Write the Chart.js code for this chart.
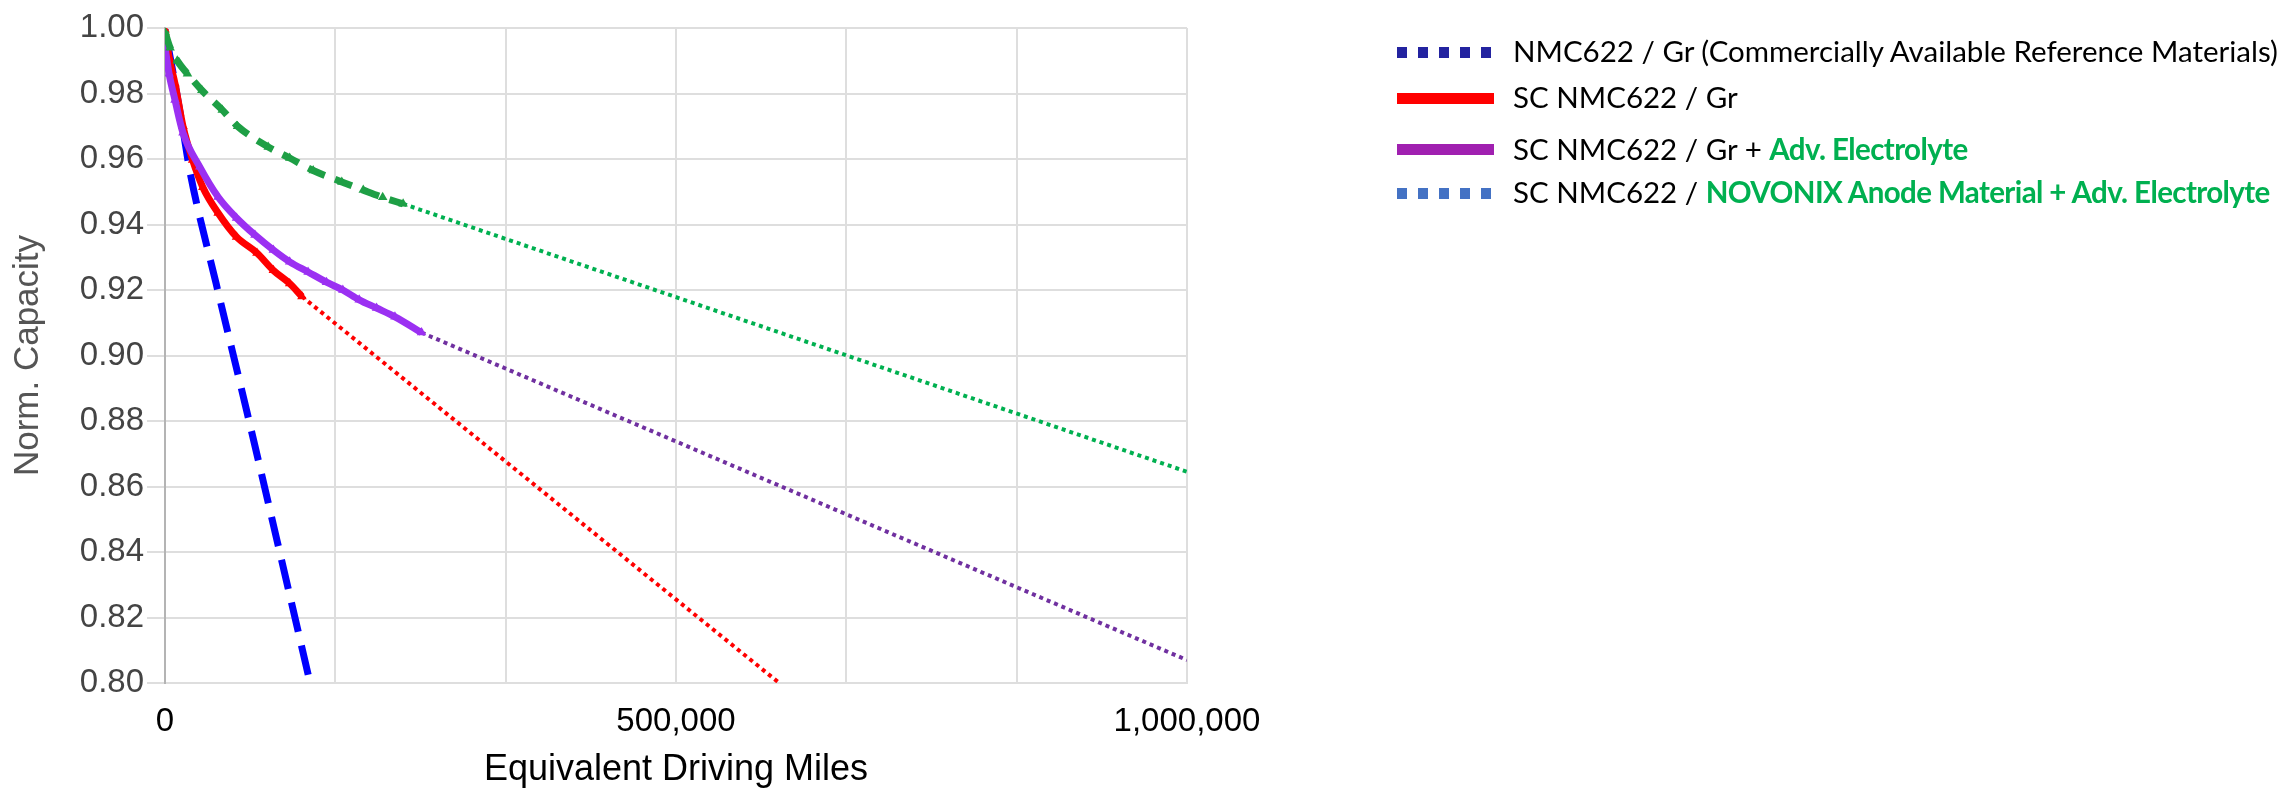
<!DOCTYPE html>
<html>
<head>
<meta charset="utf-8">
<script src="https://cdn.jsdelivr.net/npm/chart.js@4.4.0/dist/chart.umd.min.js"></script>
<style>
  html, body { margin: 0; padding: 0; background: #fff; }
  #wrap { position: relative; width: 2293px; height: 792px; }
  #myChart { position: absolute; left: 0; top: 0; }
  .swatch { position: absolute; left: 1397px; width: 97px; height: 11px; }
  .label { position: absolute; left: 1513px; font-family: Lato, sans-serif; font-size: 29.5px;
           line-height: 30px; white-space: nowrap; color: #000; }
  .label b { color: #00B050; font-weight: bold; letter-spacing: -0.6px; }
</style>
</head>
<body>
<div id="wrap">
  <canvas id="myChart" width="2293" height="792"></canvas>
</div>
<script>
//////////////////////////////// DATA ////////////////////////////////
// x = equivalent driving miles, y = normalized capacity
const xTickShown = [0, 500000, 1000000];
const yTicks = [0.80, 0.82, 0.84, 0.86, 0.88, 0.90, 0.92, 0.94, 0.96, 0.98, 1.00];

// NMC622 / Gr (commercial reference)
const blueMiles = [0, 9800, 17600, 24500, 50000, 80000, 110000, 142000];
const blueCap   = [0.9995, 0.983, 0.969, 0.956, 0.922, 0.883, 0.843, 0.800];

// SC NMC622 / Gr
const redMiles = [0, 4000, 9800, 17600, 27000, 37000, 52000, 70000, 90000, 106000, 122000, 134000];
const redCap   = [0.9995, 0.991, 0.983, 0.970, 0.9597, 0.9514, 0.9435, 0.9362, 0.9313, 0.926, 0.922, 0.918];
const redProjMiles = [134000, 601000];
const redProjCap   = [0.918, 0.800];

// SC NMC622 / Gr + Adv. Electrolyte
const purpleMiles = [0, 4000, 9800, 17600, 34000, 52000, 70000, 88000, 106000, 122000, 140000, 158000, 174000, 190000, 207000, 225000, 251000];
const purpleCap   = [0.9942, 0.986, 0.978, 0.968, 0.9576, 0.9484, 0.942, 0.9368, 0.9322, 0.9286, 0.9255, 0.9224, 0.920, 0.917, 0.9145, 0.9118, 0.907];
const purpleProjMiles = [251000, 1000000];
const purpleProjCap   = [0.907, 0.807];

// SC NMC622 / NOVONIX anode + Adv. Electrolyte
const greenMiles = [0, 5000, 12000, 22000, 36000, 56000, 71000, 101000, 122000, 145000, 173000, 194000, 213000, 233000];
const greenCap   = [0.9988, 0.994, 0.990, 0.986, 0.981, 0.975, 0.970, 0.9637, 0.9603, 0.9565, 0.953, 0.9505, 0.9483, 0.9463];
const greenProjMiles = [233000, 1000000];
const greenProjCap   = [0.9463, 0.8645];

//////////////////////////////// HELPERS ////////////////////////////////
function pts(xs, ys) {
  return xs.map((x, i) => ({ x: x, y: ys[i] }));
}

function measured(data, color, dash, order, marker) {
  return {
    data: data,
    borderColor: color,
    backgroundColor: color,
    borderWidth: 7,
    borderDash: dash,
    pointRadius: marker ? 5.5 : 0,
    pointStyle: "triangle",
    pointBorderWidth: 0,
    pointBackgroundColor: color,
    cubicInterpolationMode: "monotone",
    order: order,
  };
}

function projection(data, color, order) {
  return {
    data: data,
    borderColor: color,
    borderWidth: 4,
    borderDash: [4, 4],
    pointRadius: 0,
    order: order,
  };
}

//////////////////////////////// CHART ////////////////////////////////
const blueSet = measured(pts(blueMiles, blueCap), "#0000FF", [30, 14], 4, false);
blueSet.borderDashOffset = 29; // first visible dash starts just under the red curve

const data = {
  datasets: [
    blueSet,
    measured(pts(redMiles, redCap), "#FF0000", [], 3, true),
    measured(pts(purpleMiles, purpleCap), "#9B30F2", [], 2, true),
    measured(pts(greenMiles, greenCap), "#1E9F45", [18, 11], 1, true),
    projection(pts(redProjMiles, redProjCap), "#FF0000", 5),
    projection(pts(purpleProjMiles, purpleProjCap), "#7030A0", 5),
    projection(pts(greenProjMiles, greenProjCap), "#00B050", 5),
  ],
};

const config = {
  type: "line",
  data: data,
  options: {
    responsive: false,
    animation: false,
    layout: { padding: { left: 0, top: 28, right: 1106, bottom: 0 } },
    plugins: { legend: { display: false }, tooltip: { enabled: false } },
    scales: {
      x: {
        type: "linear",
        min: 0,
        max: 1000000,
        afterBuildTicks: (scale) => {
          scale.ticks = [0, 1, 2, 3, 4, 5, 6].map((i) => ({ value: (i * 1000000) / 6 }));
        },
        afterFit: (scale) => { scale.height = 109; },
        grid: { color: "#dedede", lineWidth: 2, drawTicks: false },
        border: { color: "#dedede", width: 2 },
        ticks: {
          padding: 19,
          color: "#000",
          font: { family: "'Liberation Sans', Arial, sans-serif", size: 33 },
          maxRotation: 0,
          autoSkip: false,
          callback: (v) => {
            const r = Math.round(v);
            return xTickShown.includes(r) ? r.toLocaleString("en-US") : "";
          },
        },
        title: {
          display: true,
          text: "Equivalent Driving Miles",
          color: "#000",
          font: { family: "'Liberation Sans', Arial, sans-serif", size: 36 },
          padding: { top: 0, bottom: 0 },
        },
      },
      y: {
        min: 0.8,
        max: 1.0,
        afterBuildTicks: (scale) => {
          scale.ticks = yTicks.map((v) => ({ value: v }));
        },
        afterFit: (scale) => { scale.width = 165; },
        grid: { color: "#dedede", lineWidth: 2, tickLength: 18 },
        border: { color: "#b4b4b4", width: 2 },
        ticks: {
          padding: 3,
          color: "#444",
          font: { family: "'Liberation Sans', Arial, sans-serif", size: 33 },
          callback: (v) => v.toFixed(2),
        },
        title: {
          display: true,
          text: "Norm. Capacity",
          color: "#555",
          font: { family: "'Liberation Sans', Arial, sans-serif", size: 35 },
          padding: { top: 7, bottom: 0 },
        },
      },
    },
  },
};

const myChart = new Chart(document.getElementById("myChart"), config);

//////////////////////////////// LEGEND ////////////////////////////////
const legendRows = [
  { swatch: "dots", color: "#2323A0", cy: 52, base: 62, html: "NMC622 / Gr (Commercially Available Reference Materials)" },
  { swatch: "bar", color: "#FF0000", cy: 98, base: 108, html: "SC NMC622 / Gr" },
  { swatch: "bar", color: "#A020B0", cy: 149, base: 160, html: "SC NMC622 / Gr + <b>Adv. Electrolyte</b>" },
  { swatch: "dots", color: "#4472C4", cy: 193, base: 203, html: "SC NMC622 / <b>NOVONIX Anode Material + Adv. Electrolyte</b>" },
];

const wrap = document.getElementById("wrap");
legendRows.forEach((row) => {
  const sw = document.createElement("div");
  sw.className = "swatch";
  sw.style.top = row.cy - 5.5 + "px";
  sw.style.background = row.swatch === "bar"
    ? row.color
    : `repeating-linear-gradient(to right, ${row.color} 0 10px, transparent 10px 21px)`;
  wrap.appendChild(sw);

  const lab = document.createElement("div");
  lab.className = "label";
  lab.style.top = row.base - 26 + "px";
  lab.innerHTML = row.html;
  wrap.appendChild(lab);
});
</script>
</body>
</html>
